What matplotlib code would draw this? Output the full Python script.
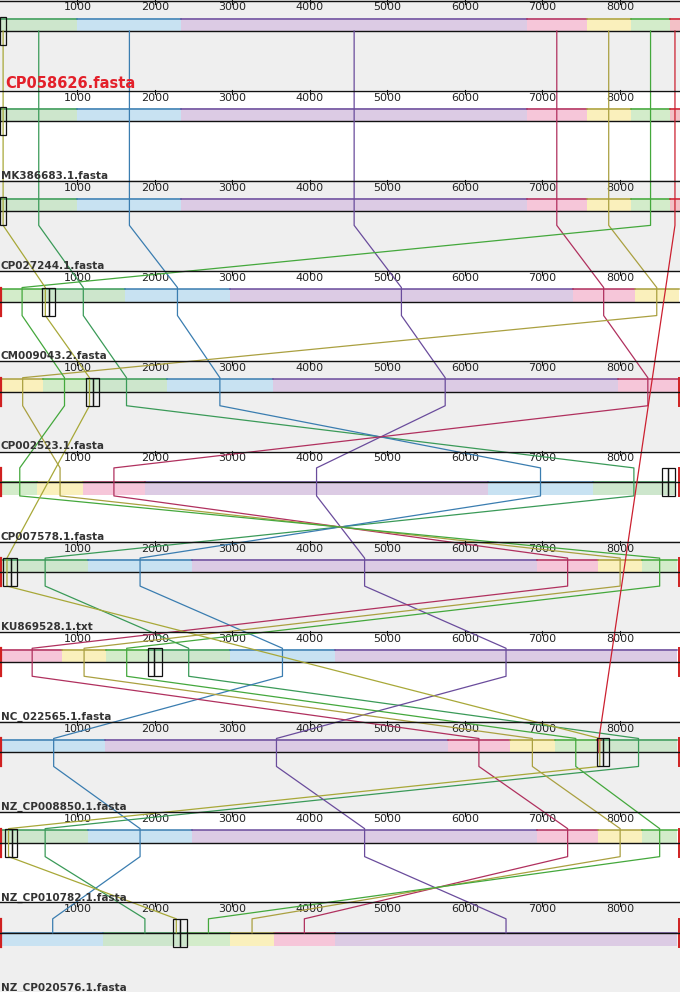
import matplotlib
matplotlib.use("Agg")
import matplotlib.pyplot as plt
from matplotlib.patches import Rectangle

# ---------------- data ----------------
genomes = ["CP058626.fasta", "MK386683.1.fasta", "CP027244.1.fasta", "CM009043.2.fasta",
           "CP002523.1.fasta", "CP007578.1.fasta", "KU869528.1.txt", "NC_022565.1.fasta",
           "NZ_CP008850.1.fasta", "NZ_CP010782.1.fasta", "NZ_CP020576.1.fasta"]
reverse = [False, False, False, False, False, True, False, False, False, False, True]
genome_len = 8775
tick_values = [1000, 2000, 3000, 4000, 5000, 6000, 7000, 8000]

# locally collinear blocks: start / end (bp) in each genome
G1_start = [0, 0, 0, 540, 1110, 7650, 30, 1900, 7740, 30, 1330]
G1_end   = [1000, 1000, 1000, 1610, 2155, 8710, 1135, 2970, 8740, 1135, 2410]
B_start  = [1000, 1000, 1000, 1610, 2155, 6300, 1135, 2970, 30, 1135, 30]
B_end    = [2340, 2340, 2340, 2970, 3520, 7650, 2480, 4320, 1355, 2480, 1330]
P_start  = [2340, 2340, 2340, 2970, 3520, 1870, 2480, 4320, 1355, 2480, 4320]
P_end    = [6800, 6800, 6800, 7390, 7970, 6300, 6930, 8740, 5780, 6930, 8740]
K_start  = [6800, 6800, 6800, 7390, 7970, 1070, 6930, 30, 5780, 6930, 3535]
K_end    = [7570, 7570, 7570, 8190, 8750, 1870, 7720, 800, 6580, 7720, 4320]
Y_start  = [7570, 7570, 7570, 8190, 30, 480, 7720, 800, 6580, 7720, 2970]
Y_end    = [8140, 8140, 8140, 8760, 555, 1070, 8285, 1370, 7160, 8285, 3535]
G2_start = [8140, 8140, 8140, 30, 555, 30, 8285, 1370, 7160, 8285, 2410]
G2_end   = [8650, 8650, 8650, 540, 1110, 480, 8740, 1900, 7700, 8740, 2970]
R_start  = [8650, 8650, 8650, None, None, None, None, None, 7700, None, None]
R_end    = [8770, 8770, 8770, None, None, None, None, None, 7760, None, None]
# small LCBs drawn as outlined boxes
S1_start = [0, 0, 0, 540, 1110, 8540, 40, 1910, 7700, 65, 2230]
S1_end   = [80, 80, 80, 630, 1200, 8620, 140, 1990, 7780, 155, 2320]
S2_start = [None, None, None, 630, 1200, 8620, 140, 1990, 7780, 155, 2320]
S2_end   = [None, None, None, 710, 1280, 8710, 220, 2090, 7860, 220, 2410]
S1_linked = [True, True, True, True, True, False, True, False, True, True, True]
# tiny end blocks at the sequence edges
left_edge_mark  = [False, False, False, True, True, True, True, True, True, True, True]
right_edge_mark = [False, False, False, False, True, True, True, True, True, True, True]

lcbs = [
    ("G1", G1_start, G1_end, "#3a9a58", "#cde6cc"),
    ("B", B_start, B_end, "#3a7db0", "#c8e2f2"),
    ("P", P_start, P_end, "#6a4c9c", "#dccbe4"),
    ("K", K_start, K_end, "#b0305e", "#f6c6d9"),
    ("Y", Y_start, Y_end, "#aaa040", "#faf0bc"),
    ("G2", G2_start, G2_end, "#44a83c", "#d3ecca"),
    ("R", R_start, R_end, "#cc2030", "#f3c0c6"),
]

# ---------------- layout ----------------
W, H = 680, 992
n = len(genomes)
ph = H / n
blk_h = 13
half = 14

fig = plt.figure(figsize=(W / 100, H / 100), dpi=100)
ax = fig.add_axes([0, 0, 1, 1])
ax.set_xlim(0, genome_len)
ax.set_ylim(H, 0)
ax.axis("off")

centers = []
for i in range(n):
    top = i * ph
    c = top + 31
    centers.append(c)
    bg = "#efefef" if i % 2 == 0 else "#ffffff"
    ax.add_patch(Rectangle((0, top), genome_len, ph, color=bg, zorder=0, lw=0))
    # ruler
    ax.plot([0, genome_len], [top + 0.6, top + 0.6], color="#111111", lw=1.0, zorder=6)
    for t in tick_values:
        ax.text(t, top + 2.5, str(t), ha="center", va="top", fontsize=8,
                color="#222222", zorder=5)
        ax.plot([t, t], [top, top + 4], color="#111111", lw=0.8, zorder=6)

# blocks
for name, st, en, lc, fc in lcbs:
    for i in range(n):
        if st[i] is None:
            continue
        c = centers[i]
        y0 = c if reverse[i] else c - blk_h
        ax.add_patch(Rectangle((st[i], y0), en[i] - st[i], blk_h, facecolor=fc,
                               edgecolor="none", zorder=2))
        ye = c if reverse[i] else c - blk_h
        ax.plot([st[i], en[i]], [ye + 0.5, ye + 0.5], color=lc, lw=1.1, zorder=3)

# red edge markers
for i in range(n):
    c = centers[i]
    if left_edge_mark[i]:
        ax.plot([12, 12], [c - half, c + half], color="#d02020", lw=1.6, zorder=4)
    if right_edge_mark[i]:
        ax.plot([genome_len - 12] * 2, [c - half, c + half], color="#d02020", lw=1.4, zorder=4)

# strip centre lines
for i in range(n):
    c = centers[i]
    ax.plot([0, genome_len], [c, c], color="#111111", lw=1.0, zorder=4)

# connecting lines
def draw_links(st, en, color, present=None):
    pts = []
    for i in range(n):
        if st[i] is None or (present is not None and not present[i]):
            continue
        pts.append(((st[i] + en[i]) / 2, centers[i]))
    xs, ys = [], []
    for k, (x, c) in enumerate(pts):
        y_top = c if k == 0 else c - half
        y_bot = c if k == len(pts) - 1 else c + half
        xs += [x, x]
        ys += [y_top, y_bot]
    ax.plot(xs, ys, color=color, lw=0.9, zorder=5)

for name, st, en, lc, fc in lcbs:
    draw_links(st, en, lc)
draw_links(S1_start, S1_end, "#a8a838", S1_linked)

# boxes
for st, en in [(S1_start, S1_end), (S2_start, S2_end)]:
    for i in range(n):
        if st[i] is None:
            continue
        c = centers[i]
        ax.add_patch(Rectangle((st[i], c - half), en[i] - st[i], 2 * half,
                               facecolor="none", edgecolor="#111111", lw=0.9, zorder=7))

# genome labels
for i in range(n):
    base = (i + 1) * ph - 1.5
    if i == 0:
        ax.text(70, base - 1, genomes[i], fontsize=10.5, fontweight="bold",
                color="#e3202a", va="baseline", ha="left", zorder=5)
    else:
        ax.text(10, base, genomes[i], fontsize=7.5, fontweight="bold",
                color="#333333", va="baseline", ha="left", zorder=5)

fig.savefig("out.png", dpi=100)
